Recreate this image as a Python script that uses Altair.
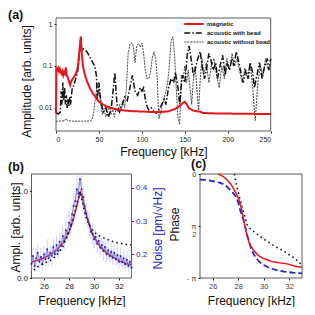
import math
import altair as alt
import pandas as pd

# ------------------------------------------------------------------ data
series_names = ["magnetic", "acoustic with bead", "acoustic without bead"]

mag_freq = [0, 0.5, 1.5, 2.5, 3.5, 4.5, 5.5, 6.5, 7.5, 8.5,
            9.5, 10.5, 11.5, 12.5, 13.5, 14.5, 15.5, 16.5, 17.5, 19,
            21, 23, 25, 26, 27, 28, 28.8, 29.5, 30, 31,
            32, 34, 36, 38, 40, 43, 46, 50, 55, 60,
            70, 80, 90, 100, 110, 120, 130, 135, 140, 145,
            148, 150, 152, 155, 160, 165, 168, 170, 180, 200,
            225, 250]
mag_amp = [0.0075, 0.085, 0.08, 0.09, 0.075, 0.085, 0.07, 0.065, 0.075, 0.06,
           0.07, 0.065, 0.092, 0.06, 0.055, 0.047, 0.04, 0.035, 0.042, 0.048,
           0.055, 0.065, 0.085, 0.12, 0.2, 0.33, 0.5, 0.3, 0.2, 0.12,
           0.085, 0.058, 0.044, 0.035, 0.028, 0.022, 0.018, 0.014, 0.012, 0.0105,
           0.0092, 0.0086, 0.0083, 0.0082, 0.008, 0.0079, 0.0082, 0.0088, 0.0098, 0.0115,
           0.0132, 0.014, 0.0122, 0.0097, 0.0086, 0.0082, 0.0082, 0.0076, 0.0074, 0.0073,
           0.0072, 0.0071]

wb_freq = [0, 3, 5, 6, 7, 8, 9, 10, 11, 12,
           13, 14, 15, 16, 17, 18, 19, 21, 23, 25,
           26, 27, 28, 29, 30, 31, 33, 36, 39, 42,
           45, 47, 48, 50, 52, 55, 58, 61, 64, 66,
           68.5, 71, 74, 77, 80, 83, 86, 89, 92, 95,
           98, 100, 102, 105, 108, 111, 114, 117, 120, 123,
           126, 128, 131, 134, 137, 139, 142, 144, 147, 150,
           153, 155, 158, 160, 162, 165, 168, 170, 173, 175,
           178, 180, 183, 186, 188, 191, 194, 197, 199, 202,
           205, 207, 210, 213, 216, 218, 221, 224, 226, 229,
           231, 234, 237, 240, 243, 246, 248, 250]
wb_amp = [0.0075, 0.0072, 0.008, 0.025, 0.012, 0.04, 0.015, 0.03, 0.012, 0.02,
          0.01, 0.016, 0.011, 0.018, 0.012, 0.02, 0.03, 0.035, 0.05, 0.07,
          0.1, 0.2, 0.35, 0.5, 0.22, 0.26, 0.25, 0.22, 0.17, 0.13,
          0.1, 0.06, 0.015, 0.04, 0.015, 0.008, 0.01, 0.006, 0.009, 0.02,
          0.07, 0.012, 0.008, 0.012, 0.018, 0.015, 0.03, 0.06, 0.025, 0.02,
          0.03, 0.025, 0.03, 0.012, 0.009, 0.01, 0.008, 0.0075, 0.009, 0.012,
          0.016, 0.012, 0.03, 0.05, 0.04, 0.07, 0.03, 0.012, 0.06, 0.04,
          0.2, 0.3, 0.12, 0.06, 0.08, 0.15, 0.22, 0.1, 0.05, 0.08,
          0.2, 0.15, 0.08, 0.12, 0.05, 0.1, 0.18, 0.06, 0.12, 0.08,
          0.15, 0.1, 0.22, 0.12, 0.06, 0.04, 0.08, 0.05, 0.12, 0.07,
          0.03, 0.06, 0.12, 0.05, 0.1, 0.15, 0.08, 0.15]

nb_freq = [0, 10, 12, 14, 20, 30, 40, 42, 44, 46,
           48, 50, 52, 54, 56, 58, 60, 62, 64, 66,
           68, 70, 72, 74, 76, 78, 80, 82, 84, 86,
           88, 90, 92, 94, 96, 98, 100, 102, 104, 106,
           108, 110, 112, 114, 116, 118, 119, 120, 122, 124,
           126, 128, 130, 132, 134, 136, 138, 140, 142, 144,
           146, 148, 150, 152, 154, 156, 158, 160, 162, 164,
           166, 168, 170, 172, 175, 178, 181, 184, 187, 190,
           193, 196, 199, 202, 205, 208, 211, 214, 217, 220,
           223, 226, 229, 232, 235, 238, 241, 244, 247, 250]
nb_amp = [0.0048, 0.0049, 0.0055, 0.0049, 0.0048, 0.0048, 0.0049, 0.0052, 0.008, 0.018,
          0.038, 0.03, 0.012, 0.007, 0.009, 0.006, 0.008, 0.011, 0.007, 0.009,
          0.006, 0.01, 0.008, 0.012, 0.009, 0.014, 0.01, 0.03, 0.2, 0.33,
          0.36, 0.3, 0.12, 0.3, 0.34, 0.28, 0.35, 0.2, 0.08, 0.05,
          0.05, 0.07, 0.15, 0.22, 0.15, 0.05, 0.012, 0.0055, 0.008, 0.012,
          0.018, 0.025, 0.04, 0.1, 0.4, 0.5, 0.2, 0.03, 0.006, 0.004,
          0.06, 0.05, 0.1, 0.04, 0.08, 0.03, 0.012, 0.05, 0.1, 0.03,
          0.008, 0.05, 0.15, 0.06, 0.12, 0.04, 0.1, 0.15, 0.06, 0.03,
          0.1, 0.05, 0.15, 0.08, 0.2, 0.1, 0.15, 0.07, 0.04, 0.09,
          0.05, 0.12, 0.03, 0.005, 0.04, 0.1, 0.06, 0.15, 0.08, 0.12]

# panel (b)
b_noise_freq = [25.0, 25.125, 25.25, 25.375, 25.5, 25.625, 25.75, 25.875,
                26.0, 26.125, 26.25, 26.375, 26.5, 26.625, 26.75, 26.875,
                27.0, 27.125, 27.25, 27.375, 27.5, 27.625, 27.75, 27.875,
                28.0, 28.125, 28.25, 28.375, 28.5, 28.625, 28.75, 28.875,
                29.0, 29.125, 29.25, 29.375, 29.5, 29.625, 29.75, 29.875,
                30.0, 30.125, 30.25, 30.375, 30.5, 30.625, 30.75, 30.875,
                31.0, 31.125, 31.25, 31.375, 31.5, 31.625, 31.75, 31.875,
                32.0, 32.125, 32.25, 32.375, 32.5, 32.625, 32.75, 32.875, 33.0]
b_noise = [0.172, 0.195, 0.165, 0.188, 0.205, 0.178, 0.192, 0.170,
           0.200, 0.185, 0.215, 0.188, 0.205, 0.195, 0.222, 0.200,
           0.228, 0.210, 0.238, 0.226, 0.255, 0.240, 0.272, 0.262,
           0.295, 0.285, 0.320, 0.345, 0.360, 0.395, 0.382, 0.425,
           0.395, 0.372, 0.345, 0.322, 0.305, 0.290, 0.268, 0.262,
           0.245, 0.252, 0.232, 0.240, 0.220, 0.228, 0.210, 0.222,
           0.200, 0.212, 0.195, 0.208, 0.190, 0.205, 0.185, 0.198,
           0.178, 0.195, 0.176, 0.188, 0.170, 0.184, 0.165, 0.178, 0.160]
b_noise_err = [0.02, 0.025, 0.018, 0.03, 0.022, 0.02, 0.028, 0.018,
               0.025, 0.02, 0.03, 0.022, 0.02, 0.028, 0.025, 0.018,
               0.03, 0.022, 0.028, 0.02, 0.032, 0.025, 0.03, 0.022,
               0.035, 0.028, 0.03, 0.035, 0.03, 0.04, 0.035, 0.015,
               0.04, 0.032, 0.035, 0.03, 0.028, 0.035, 0.025, 0.03,
               0.028, 0.022, 0.03, 0.02, 0.028, 0.022, 0.03, 0.02,
               0.025, 0.028, 0.02, 0.03, 0.022, 0.025, 0.02, 0.028,
               0.022, 0.025, 0.02, 0.028, 0.02, 0.025, 0.018, 0.022, 0.02]

b_fit_freq = [25, 25.5, 26, 26.5, 27, 27.5, 28, 28.25, 28.5, 28.7, 28.9,
              29.05, 29.2, 29.5, 29.75, 30, 30.5, 31, 31.5, 32, 32.5, 33]
b_fit_amp = [0.185, 0.205, 0.23, 0.27, 0.32, 0.40, 0.53, 0.63, 0.76, 0.88, 0.99,
             0.93, 0.84, 0.67, 0.56, 0.47, 0.36, 0.29, 0.24, 0.20, 0.17, 0.15]

b_ac_freq = [25.2, 25.5, 26, 26.5, 27, 27.5, 28, 28.5, 28.9, 29.3, 29.7,
             30, 30.5, 31, 31.5, 32, 32.5, 33]
b_ac_amp = [0.09, 0.13, 0.17, 0.20, 0.26, 0.36, 0.53, 0.78, 1.0, 0.72, 0.59,
            0.53, 0.48, 0.45, 0.42, 0.40, 0.39, 0.38]

# panel (c)
c_red_freq = [26.44, 26.8, 27.1, 27.4, 27.6, 27.8, 28.0, 28.15, 28.3, 28.5, 28.7,
              28.85, 29.0, 29.2, 29.4, 29.65, 29.9, 30.3, 30.7, 31.2, 31.6,
              32.0, 32.4, 32.7, 33.0]
c_red_phase = [0, -0.07, -0.167, -0.3, -0.42, -0.56, -0.72, -0.9, -1.13, -1.53, -1.89,
               -2.06, -2.19, -2.31, -2.39, -2.48, -2.54, -2.60, -2.65, -2.68, -2.70,
               -2.73, -2.78, -2.80, -2.82]
c_blue_freq = [25.0, 25.4, 25.8, 26.2, 26.6, 27.0, 27.2, 27.5, 27.8, 28.0, 28.1,
               28.25, 28.4, 28.55, 28.7, 28.85, 29.0, 29.2, 29.4, 29.65, 29.9,
               30.3, 30.7, 31.2, 31.6, 32.3, 33.0]
c_blue_phase = [-0.167, -0.18, -0.2, -0.23, -0.27, -0.34, -0.42, -0.53, -0.67, -0.85, -1.03,
                -1.2, -1.38, -1.6, -1.84, -2.05, -2.24, -2.42, -2.54, -2.65, -2.73,
                -2.81, -2.87, -2.92, -2.95, -2.98, -3.0]
c_blk_freq = [27.7, 27.85, 28.0, 28.1, 28.25, 28.4, 28.55, 28.7, 28.9, 29.15,
              29.4, 29.9, 30.3, 30.7, 31.2, 31.6, 32.0, 32.4, 32.7, 33.0]
c_blk_phase = [0, -0.33, -0.52, -0.72, -0.92, -1.13, -1.33, -1.53, -1.64, -1.72,
               -1.79, -1.94, -2.04, -2.14, -2.25, -2.34, -2.44, -2.54, -2.64, -2.75]

a_xticks = [0, 50, 100, 150, 200, 250]
a_yticks = [0.01, 0.1, 1]
bc_xticks = [26, 28, 30, 32]
b_yticks = [0, 1]
b_nticks = [0.2, 0.3, 0.4]
c_yticks = [-math.pi, -math.pi / 2, 0]

# ------------------------------------------------------------------ layout
W, H = 299, 299
A_X, A_Y = [48, 262.7], [123, 10]
B_X, B_Y = [23.5, 123.5], [270, 166]
C_X, C_Y = [192, 294], [270, 166]
A_XDOM, A_YDOM = [0, 250], [0.0028, 1.4]
B_XDOM, B_YDOM, B_NDOM = [25, 33], [0, 1.2], [0.129, 0.441]
C_XDOM, C_YDOM = [25, 33], [-math.pi, 0]

FONT = "Liberation Sans"
RED = "#e8141c"
BLUE = "#2626c8"
NAVY = "#1c1c8c"


def lin(domain, rng):
    return alt.Scale(type="linear", domain=domain, range=rng, nice=False, zero=False)


def logs(domain, rng):
    return alt.Scale(type="log", domain=domain, range=rng, nice=False)


def frame(xs, ys, xdom, ydom):
    df = pd.DataFrame({"x0": [xdom[0]], "x1": [xdom[1]], "y0": [ydom[0]], "y1": [ydom[1]]})
    return alt.Chart(df).mark_rect(fill="white", fillOpacity=0, stroke="#333333", strokeWidth=0.8).encode(
        x=alt.X("x0:Q", scale=xs, axis=None), x2="x1:Q",
        y=alt.Y("y0:Q", scale=ys, axis=None), y2="y1:Q")


def label(t, x, y):
    return alt.Chart(pd.DataFrame({"t": [t]})).mark_text(
        align="left", baseline="alphabetic", fontSize=12.5, fontWeight="bold", font=FONT, color="#111"
    ).encode(text="t:N", x=alt.value(x), y=alt.value(y))


# ---------------- panel (a)
dfa = pd.concat([
    pd.DataFrame({"f": nb_freq, "amp": nb_amp, "series": series_names[2]}),
    pd.DataFrame({"f": wb_freq, "amp": wb_amp, "series": series_names[1]}),
    pd.DataFrame({"f": mag_freq, "amp": mag_amp, "series": series_names[0]}),
])
leg = alt.Legend(title=None, orient="none", legendX=175, legendY=12.5, symbolType="stroke",
                 symbolSize=380, clipHeight=7, labelFontSize=6, labelFont=FONT, labelFontWeight="bold",
                 labelColor="#111", rowPadding=2, padding=0, labelOffset=2)
frame_a = frame(lin(A_XDOM, A_X), logs(A_YDOM, A_Y), A_XDOM, A_YDOM)
lines_a = alt.Chart(dfa).mark_line(strokeCap="butt").encode(
    x=alt.X("f:Q", scale=lin(A_XDOM, A_X),
            axis=alt.Axis(orient="bottom", offset=A_Y[0] - H, values=a_xticks, title="Frequency [kHz]",
                          labelFontSize=7, titleY=24, titleBaseline="alphabetic")),
    y=alt.Y("amp:Q", scale=logs(A_YDOM, A_Y),
            axis=alt.Axis(orient="left", offset=-A_X[0], values=a_yticks, format="~g",
                          title="Amplitude [arb. units]", labelFontSize=7, titleX=-30, titleY=73,
                          titleAngle=270, titleBaseline="middle", titleAlign="center")),
    color=alt.Color("series:N", scale=alt.Scale(domain=series_names, range=[RED, "#111111", "#444444"]), legend=leg),
    strokeDash=alt.StrokeDash("series:N", scale=alt.Scale(domain=series_names, range=[[1, 0], [6, 2, 1.5, 2], [2, 1]]), legend=leg),
    strokeWidth=alt.StrokeWidth("series:N", scale=alt.Scale(domain=series_names, range=[2, 1, 0.9]), legend=leg),
)

# ---------------- panel (b)
bxs = lin(B_XDOM, B_X)
frame_b = frame(bxs, lin(B_YDOM, B_Y), B_XDOM, B_YDOM)
fit_b = alt.Chart(pd.DataFrame({"f": b_fit_freq, "a": b_fit_amp})).mark_line(color=RED, strokeWidth=1.5).encode(
    x=alt.X("f:Q", scale=bxs,
            axis=alt.Axis(orient="bottom", offset=B_Y[0] - H, values=bc_xticks, title="Frequency [kHz]",
                          labelFontSize=8, titleY=26, titleBaseline="alphabetic")),
    y=alt.Y("a:Q", scale=lin(B_YDOM, B_Y),
            axis=alt.Axis(orient="left", offset=-B_X[0], values=b_yticks, title="Ampl. [arb. units]",
                          labelFontSize=8, titleX=-16.5, titleY=219, titleAngle=270,
                          titleBaseline="middle", titleAlign="center")),
)
noise_df = pd.DataFrame({"f": b_noise_freq, "n": b_noise, "err": b_noise_err})
noise_df["lo"] = noise_df["n"] - noise_df["err"]
noise_df["hi"] = noise_df["n"] + noise_df["err"]
noise_err = alt.Chart(noise_df).mark_rule(color="#9c9cf2", strokeWidth=0.7, opacity=0.65).encode(
    x=alt.X("f:Q", scale=bxs, axis=None),
    y=alt.Y("lo:Q", scale=lin(B_NDOM, B_Y), axis=None), y2="hi:Q",
)
noise_line = alt.Chart(noise_df).mark_line(color="#4a4ae0", strokeWidth=0.8, opacity=0.75).encode(
    x=alt.X("f:Q", scale=bxs, axis=None),
    y=alt.Y("n:Q", scale=lin(B_NDOM, B_Y),
            axis=alt.Axis(orient="right", offset=B_X[1] - W, values=b_nticks, format=".1f",
                          title="Noise [pm/√Hz]", labelFontSize=8, labelColor=BLUE, tickColor=BLUE,
                          titleColor=BLUE, titleX=25.5, titleY=220, titleAngle=270,
                          titleBaseline="middle", titleAlign="center")),
)
noise_pts = alt.Chart(noise_df).mark_circle(color=NAVY, size=4, opacity=0.9).encode(
    x=alt.X("f:Q", scale=bxs, axis=None),
    y=alt.Y("n:Q", scale=lin(B_NDOM, B_Y), axis=None),
)
ac_b = alt.Chart(pd.DataFrame({"f": b_ac_freq, "a": b_ac_amp})).mark_line(
    color="#111", strokeWidth=1.6, strokeDash=[1.5, 3.2], strokeCap="butt").encode(
    x=alt.X("f:Q", scale=bxs, axis=None),
    y=alt.Y("a:Q", scale=lin(B_YDOM, B_Y), axis=None),
)

# ---------------- panel (c)
cxs = lin(C_XDOM, C_X)
frame_c = frame(cxs, lin(C_YDOM, C_Y), C_XDOM, C_YDOM)
red_c = alt.Chart(pd.DataFrame({"f": c_red_freq, "p": c_red_phase})).mark_line(color=RED, strokeWidth=1.5).encode(
    x=alt.X("f:Q", scale=cxs,
            axis=alt.Axis(orient="bottom", offset=C_Y[0] - H, values=bc_xticks, title="Frequency [kHz]",
                          labelFontSize=7.5, labelColor="#444", titleY=26, titleBaseline="alphabetic")),
    y=alt.Y("p:Q", scale=lin(C_YDOM, C_Y),
            axis=alt.Axis(orient="left", offset=-C_X[0], values=c_yticks,
                          labelExpr="datum.value > -0.1 ? '0' : (datum.value < -3 ? '- π' : ['π', '2'])",
                          labelLineHeight=8, labelFontSize=7.5, labelColor="#444",
                          title="Phase", titleX=-26, titleY=216, titleAngle=270,
                          titleBaseline="middle", titleAlign="center")),
)
blue_c = alt.Chart(pd.DataFrame({"f": c_blue_freq, "p": c_blue_phase})).mark_line(
    color="#2020d0", strokeWidth=1.8, strokeDash=[6, 3]).encode(
    x=alt.X("f:Q", scale=cxs, axis=None),
    y=alt.Y("p:Q", scale=lin(C_YDOM, C_Y), axis=None),
)
blk_c = alt.Chart(pd.DataFrame({"f": c_blk_freq, "p": c_blk_phase})).mark_line(
    color="#111", strokeWidth=1.6, strokeDash=[1.5, 3.2], strokeCap="butt").encode(
    x=alt.X("f:Q", scale=cxs, axis=None),
    y=alt.Y("p:Q", scale=lin(C_YDOM, C_Y), axis=None),
)

chart = alt.layer(
    frame_a, lines_a,
    frame_b, fit_b, noise_err, noise_line, noise_pts, ac_b,
    frame_c, blue_c, blk_c, red_c,
    label("(a)", 0, 11), label("(b)", 0, 162.5), label("(c)", 183, 160),
).resolve_scale(
    x="independent", y="independent"
).resolve_axis(
    x="independent", y="independent"
).properties(
    width=W, height=H, autosize="none", padding=0
).configure_axis(
    grid=False, domain=False, tickSize=2, labelPadding=2, labelFont=FONT, titleFont=FONT,
    titleFontSize=12, titleFontWeight="normal", tickColor="#222", labelColor="#222", titleColor="#111"
).configure_view(stroke=None)

chart.save("out.html", embed_options={"renderer": "svg", "actions": False})
